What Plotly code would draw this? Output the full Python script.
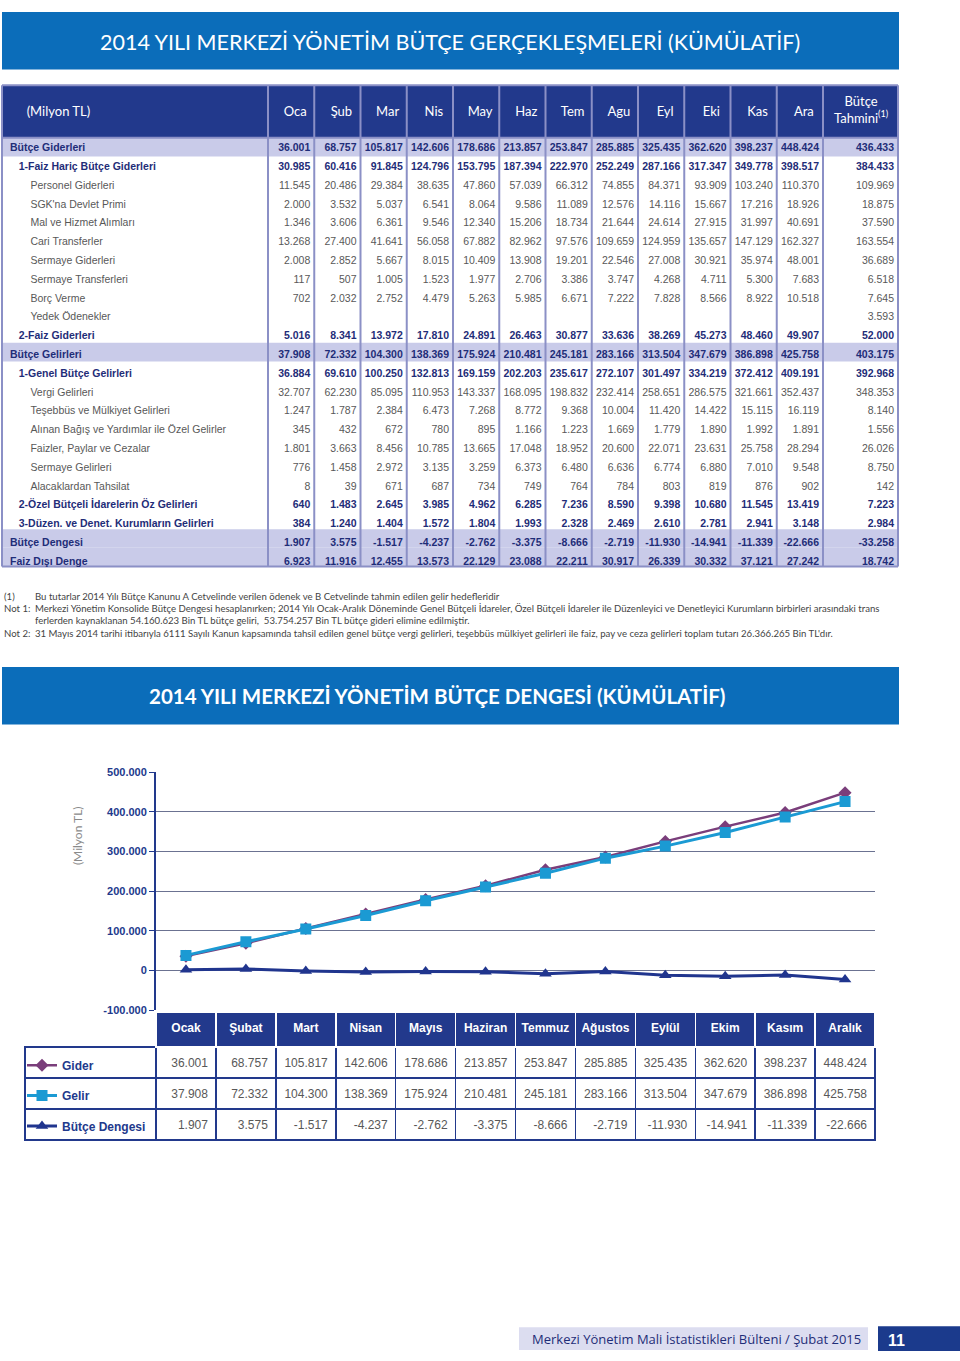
import plotly.graph_objects as go

W, H = 960, 1361


def px_x(x):
    return x / W


def px_y(y):
    return 1 - y / H


def fmt(v):
    if v is None:
        return ""
    return f"{v:,}".replace(",", ".")


NAVY = "#22398C"
BLUE = "#0B6DBA"
LAV = "#C9CBE9"
LINEC = "#8B90C6"
GRAY = "#585858"
BOLDC = "#1F2D78"
SANS = "Liberation Sans, Arial, sans-serif"
HUMAN = "Lato, Open Sans, sans-serif"
CLEAR = "rgba(0,0,0,0)"

# ---------------- data ----------------
months_short = ["Oca", "Şub", "Mar", "Nis", "May", "Haz", "Tem", "Agu", "Eyl", "Eki", "Kas", "Ara"]
months_long = ["Ocak", "Şubat", "Mart", "Nisan", "Mayıs", "Haziran", "Temmuz", "Ağustos",
               "Eylül", "Ekim", "Kasım", "Aralık"]

gider = [36001, 68757, 105817, 142606, 178686, 213857, 253847, 285885, 325435, 362620, 398237, 448424]
gelir = [37908, 72332, 104300, 138369, 175924, 210481, 245181, 283166, 313504, 347679, 386898, 425758]
denge = [1907, 3575, -1517, -4237, -2762, -3375, -8666, -2719, -11930, -14941, -11339, -22666]

butce_giderleri = gider + [436433]
faiz_haric = [30985, 60416, 91845, 124796, 153795, 187394, 222970, 252249, 287166, 317347, 349778, 398517, 384433]
personel = [11545, 20486, 29384, 38635, 47860, 57039, 66312, 74855, 84371, 93909, 103240, 110370, 109969]
sgk = [2000, 3532, 5037, 6541, 8064, 9586, 11089, 12576, 14116, 15667, 17216, 18926, 18875]
mal_hizmet = [1346, 3606, 6361, 9546, 12340, 15206, 18734, 21644, 24614, 27915, 31997, 40691, 37590]
cari = [13268, 27400, 41641, 56058, 67882, 82962, 97576, 109659, 124959, 135657, 147129, 162327, 163554]
sermaye_gid = [2008, 2852, 5667, 8015, 10409, 13908, 19201, 22546, 27008, 30921, 35974, 48001, 36689]
sermaye_tr = [117, 507, 1005, 1523, 1977, 2706, 3386, 3747, 4268, 4711, 5300, 7683, 6518]
borc_verme = [702, 2032, 2752, 4479, 5263, 5985, 6671, 7222, 7828, 8566, 8922, 10518, 7645]
yedek = [None] * 12 + [3593]
faiz_gid = [5016, 8341, 13972, 17810, 24891, 26463, 30877, 33636, 38269, 45273, 48460, 49907, 52000]
butce_gelirleri = gelir + [403175]
genel_gelir = [36884, 69610, 100250, 132813, 169159, 202203, 235617, 272107, 301497, 334219, 372412, 409191, 392968]
vergi = [32707, 62230, 85095, 110953, 143337, 168095, 198832, 232414, 258651, 286575, 321661, 352437, 348353]
tesebbus = [1247, 1787, 2384, 6473, 7268, 8772, 9368, 10004, 11420, 14422, 15115, 16119, 8140]
bagis = [345, 432, 672, 780, 895, 1166, 1223, 1669, 1779, 1890, 1992, 1891, 1556]
faizler = [1801, 3663, 8456, 10785, 13665, 17048, 18952, 20600, 22071, 23631, 25758, 28294, 26026]
sermaye_gel = [776, 1458, 2972, 3135, 3259, 6373, 6480, 6636, 6774, 6880, 7010, 9548, 8750]
alacak = [8, 39, 671, 687, 734, 749, 764, 784, 803, 819, 876, 902, 142]
ozel_butce = [640, 1483, 2645, 3985, 4962, 6285, 7236, 8590, 9398, 10680, 11545, 13419, 7223]
duzen = [384, 1240, 1404, 1572, 1804, 1993, 2328, 2469, 2610, 2781, 2941, 3148, 2984]
butce_dengesi = denge + [-33258]
faiz_disi = [6923, 11916, 12455, 13573, 22129, 23088, 22211, 30917, 26339, 30332, 37121, 27242, 18742]

row_labels = ["Bütçe Giderleri", "1-Faiz Hariç Bütçe Giderleri", "Personel Giderleri",
              "SGK'na Devlet Primi", "Mal ve Hizmet Alımları", "Cari Transferler",
              "Sermaye Giderleri", "Sermaye Transferleri", "Borç Verme", "Yedek Ödenekler",
              "2-Faiz Giderleri", "Bütçe Gelirleri", "1-Genel Bütçe Gelirleri", "Vergi Gelirleri",
              "Teşebbüs ve Mülkiyet Gelirleri", "Alınan Bağış ve Yardımlar ile Özel Gelirler",
              "Faizler, Paylar ve Cezalar", "Sermaye Gelirleri", "Alacaklardan Tahsilat",
              "2-Özel Bütçeli İdarelerin Öz Gelirleri", "3-Düzen. ve Denet. Kurumların Gelirleri",
              "Bütçe Dengesi", "Faiz Dışı Denge"]
row_levels = [0, 1, 2, 2, 2, 2, 2, 2, 2, 2, 1, 0, 1, 2, 2, 2, 2, 2, 2, 1, 1, 0, 0]
row_bold = [1, 1, 0, 0, 0, 0, 0, 0, 0, 0, 1, 1, 1, 0, 0, 0, 0, 0, 0, 1, 1, 1, 1]
row_highlight = [0, 11, 21, 22]
rows = [butce_giderleri, faiz_haric, personel, sgk, mal_hizmet, cari, sermaye_gid, sermaye_tr,
        borc_verme, yedek, faiz_gid, butce_gelirleri, genel_gelir, vergi, tesebbus, bagis,
        faizler, sermaye_gel, alacak, ozel_butce, duzen, butce_dengesi, faiz_disi]

y_tickvals = [-100000, 0, 100000, 200000, 300000, 400000, 500000]
y_ticktext = ["-100.000", "0", "100.000", "200.000", "300.000", "400.000", "500.000"]

# ---------------- figure ----------------
fig = go.Figure()

fig.add_trace(go.Scatter(x=months_long, y=gider, name="<b>Gider</b>", mode="lines+markers",
                         line=dict(color="#7A3E7B", width=2.5),
                         marker=dict(symbol="diamond", size=10, color="#7A3E7B"),
                         legendgroup="a"))
fig.add_trace(go.Scatter(x=months_long, y=gelir, name="<b>Gelir</b>", mode="lines+markers",
                         line=dict(color="#1B9AD3", width=3),
                         marker=dict(symbol="square", size=11, color="#1B9AD3"),
                         legendgroup="b"))
fig.add_trace(go.Scatter(x=months_long, y=denge, name="<b>Bütçe Dengesi</b>", mode="lines+markers",
                         line=dict(color="#20358E", width=3),
                         marker=dict(symbol="triangle-up", size=11, color="#20358E"),
                         legendgroup="c"))

# ---------- top table (two overlaid text layers: bold rows and regular rows) ----------
indent = {0: "", 1: "\u00a0" * 3, 2: "\u00a0" * 7}
label_col = [indent[lvl] + lbl for lbl, lvl in zip(row_labels, row_levels)]
all_cols = [label_col] + [[fmt(r[i]) for r in rows] for i in range(13)]

top_y0, head_h, row_h = 80, 53, 18.8
n_rows = len(row_labels)
body_top = top_y0 + head_h
body_bot = body_top + row_h * n_rows
vis_edges = [2, 268] + [268 + 46.25 * (i + 1) for i in range(12)] + [898]
SHIFT = 4     # text columns nudged right so numbers sit close to the separators
TEXT_DY = 2.8  # plotly puts cell text slightly below the row middle
tab_edges = [2] + [e + SHIFT for e in vis_edges[1:]]
tab_widths = [tab_edges[i + 1] - tab_edges[i] for i in range(len(tab_edges) - 1)]
tab_body_top = body_top - TEXT_DY
tab_top = 93.5
top_domain = dict(x=[px_x(tab_edges[0]), px_x(tab_edges[-1])],
                  y=[px_y(tab_body_top + row_h * n_rows + 8), px_y(tab_top)])

for want_bold in (1, 0):
    cols = [[v if b == want_bold else "" for v, b in zip(col, row_bold)] for col in all_cols]
    if want_bold:
        hvals = ["\u00a0" * 5 + "(Milyon TL)"] + months_short + [""]
    else:
        hvals = [""] * 14
    fig.add_trace(go.Table(
        domain=top_domain,
        columnwidth=tab_widths,
        header=dict(values=hvals, fill_color=CLEAR, line=dict(color=CLEAR, width=0),
                    font=dict(family=HUMAN, size=13, color="white"),
                    align=["left"] + ["center"] * 13, height=tab_body_top - tab_top),
        cells=dict(values=cols, fill_color=CLEAR, line=dict(color=CLEAR, width=0),
                   font=dict(family=SANS, size=10.5, color=BOLDC if want_bold else GRAY,
                             weight="bold" if want_bold else "normal"),
                   align=["left"] + ["right"] * 13, height=row_h),
    ))

# ---------- bottom table: frame layer + text layer ----------
bt_vals = [["", "", ""]] + [[fmt(gider[i]), fmt(gelir[i]), fmt(denge[i])] for i in range(12)]
bt_blank = [["", "", ""] for _ in range(13)]
bt_x = [px_x(25), px_x(875)]
bt_widths = [131] + [59.9] * 12
fig.add_trace(go.Table(
    domain=dict(x=bt_x, y=[px_y(1150), px_y(1015)]),
    columnwidth=bt_widths,
    header=dict(values=[""] * 13, fill_color=[CLEAR] + [NAVY] * 12,
                line=dict(color=[CLEAR] + ["white"] * 12, width=1.5), height=35),
    cells=dict(values=bt_blank, fill_color=[[CLEAR] * 3] + [["white"] * 3] * 12,
               line=dict(color=NAVY, width=1.5), height=31),
))
fig.add_trace(go.Table(
    domain=dict(x=bt_x, y=[px_y(1153), px_y(1018)]),
    columnwidth=bt_widths,
    header=dict(values=[""] + months_long, fill_color=CLEAR, line=dict(color=CLEAR, width=0),
                font=dict(family=SANS, size=12, color="white", weight="bold"), align="center",
                height=35),
    cells=dict(values=bt_vals, fill_color=CLEAR, line=dict(color=CLEAR, width=0),
               font=dict(family=SANS, size=12, color=GRAY), align=["left"] + ["right"] * 12,
               height=31),
))

P = dict(xref="paper", yref="paper")
shapes = []
for y0, y1 in [(6, 64), (667, 725)]:
    shapes.append(dict(type="rect", **P, x0=px_x(2), x1=px_x(899), y0=px_y(y1), y1=px_y(y0),
                       fillcolor=BLUE, line=dict(width=0), layer="below"))
shapes.append(dict(type="rect", **P, x0=px_x(2), x1=px_x(898), y0=px_y(body_top), y1=px_y(top_y0),
                   fillcolor=NAVY, line=dict(width=0), layer="below"))
for r in row_highlight:
    shapes.append(dict(type="rect", **P, x0=px_x(2), x1=px_x(898),
                       y0=px_y(body_top + row_h * (r + 1)), y1=px_y(body_top + row_h * r),
                       fillcolor=LAV, line=dict(width=0), layer="below"))
for xe in vis_edges:
    shapes.append(dict(type="line", **P, x0=px_x(xe), x1=px_x(xe),
                       y0=px_y(body_bot), y1=px_y(top_y0), line=dict(color=LINEC, width=2),
                       layer="below"))
for yy in (top_y0, body_top, body_bot):
    shapes.append(dict(type="line", **P, x0=px_x(2), x1=px_x(898), y0=px_y(yy), y1=px_y(yy),
                       line=dict(color=LINEC, width=2), layer="below"))
shapes.append(dict(type="rect", **P, x0=px_x(519), x1=px_x(868), y0=px_y(1356), y1=px_y(1333),
                   fillcolor="#DCDDF0", line=dict(width=0), layer="below"))
shapes.append(dict(type="rect", **P, x0=px_x(878), x1=px_x(960), y0=px_y(1357), y1=px_y(1332),
                   fillcolor="#1B3A8C", line=dict(width=0), layer="below"))

annotations = [
    dict(text="2014 YILI MERKEZİ YÖNETİM BÜTÇE GERÇEKLEŞMELERİ (KÜMÜLATİF)", x=px_x(450), y=px_y(36),
         font=dict(family=HUMAN, size=21.5, color="white"), xanchor="center", yanchor="middle"),
    dict(text="<b>2014 YILI MERKEZİ YÖNETİM BÜTÇE DENGESİ (KÜMÜLATİF)</b>", x=px_x(437), y=px_y(696),
         font=dict(family=HUMAN, size=20.5, color="white"), xanchor="center", yanchor="middle"),
    dict(text="Bütçe<br>Tahmini<sup>(1)</sup>", x=px_x(861), y=px_y(104),
         font=dict(family=HUMAN, size=13, color="white"), xanchor="center", yanchor="middle"),
    dict(text="(Milyon TL)", x=px_x(68), y=px_y(837), textangle=-90,
         font=dict(family=HUMAN, size=12, color="#8A8A8A")),
    dict(text="Merkezi Yönetim Mali İstatistikleri Bülteni / Şubat 2015", x=px_x(863), y=px_y(1345),
         font=dict(family="Open Sans, sans-serif", size=13, color="#1F2D78"),
         xanchor="right", yanchor="middle"),
    dict(text="<b>11</b>", x=px_x(886), y=px_y(1346), font=dict(family=SANS, size=16, color="white"),
         xanchor="left", yanchor="middle"),
]
notes = [
    (596, "(1)", "Bu tutarlar 2014 Yılı Bütçe Kanunu A Cetvelinde verilen ödenek ve B Cetvelinde tahmin edilen gelir hedefleridir"),
    (608, "Not 1:", "Merkezi Yönetim Konsolide Bütçe Dengesi hesaplanırken; 2014 Yılı Ocak-Aralık Döneminde Genel Bütçeli İdareler, Özel Bütçeli İdareler ile Düzenleyici ve Denetleyici Kurumların birbirleri arasındaki trans"),
    (620, "", "ferlerden kaynaklanan 54.160.623 Bin TL bütçe geliri,  53.754.257 Bin TL bütçe gideri elimine edilmiştir."),
    (633, "Not 2:", "31 Mayıs 2014 tarihi itibarıyla 6111 Sayılı Kanun kapsamında tahsil edilen genel bütçe vergi gelirleri, teşebbüs mülkiyet gelirleri ile faiz, pay ve ceza gelirleri toplam tutarı 26.366.265 Bin TL'dır."),
]
for yy, tag, txt in notes:
    if tag:
        annotations.append(dict(text=tag, x=px_x(2), y=px_y(yy), xanchor="left", yanchor="middle",
                                font=dict(family=HUMAN, size=9.6, color="#444")))
    annotations.append(dict(text=txt, x=px_x(33), y=px_y(yy), xanchor="left", yanchor="middle",
                            font=dict(family=HUMAN, size=9.6, color="#444")))
for a in annotations:
    a.update(xref="paper", yref="paper", showarrow=False)

fig.update_layout(
    width=W, height=H, autosize=False,
    margin=dict(l=0, r=0, t=0, b=0),
    paper_bgcolor="white", plot_bgcolor="white",
    xaxis=dict(domain=[px_x(156), px_x(875)], range=[-0.5, 11.5], visible=False, type="category"),
    yaxis=dict(domain=[px_y(1013), px_y(773)], range=[-100000, 500000],
               tickvals=y_tickvals, ticktext=[f"<b>{t}</b>" for t in y_ticktext],
               tickfont=dict(family=SANS, size=11, color=NAVY),
               showgrid=True, gridcolor="#6B7291", gridwidth=1, zeroline=False,
               showline=True, linecolor=NAVY, linewidth=2, ticks="outside", ticklen=5, tickcolor=NAVY),
    showlegend=True,
    legend=dict(x=px_x(22), y=px_y(1054), xanchor="left", yanchor="top", traceorder="grouped",
                tracegroupgap=11.4, font=dict(family=SANS, size=12, color=NAVY),
                bgcolor=CLEAR, borderwidth=0),
    shapes=shapes,
    annotations=annotations,
)

fig.write_html("out.html", config={"displayModeBar": False},
               post_script="document.body.style.margin='0';document.body.style.overflow='hidden';")
